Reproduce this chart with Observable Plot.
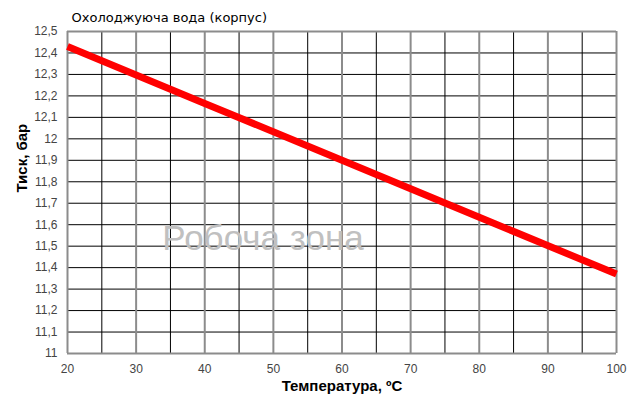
<!DOCTYPE html>
<html><head><meta charset="utf-8">
<script src="https://cdn.jsdelivr.net/npm/d3@7"></script>
<script src="https://cdn.jsdelivr.net/npm/@observablehq/plot@0.6"></script>
<style>body{margin:0;background:#fff;} svg{display:block;}</style>
</head><body><div id="chart"></div>
<script>
const temperatures = [20, 40, 60, 80, 100];
const pressures = [12.43, 12.165, 11.90, 11.635, 11.37];
const xTicks = [20, 30, 40, 50, 60, 70, 80, 90, 100];
const xMinor = [25, 35, 45, 55, 65, 75, 85, 95];
const yTicks = [11, 11.1, 11.2, 11.3, 11.4, 11.5, 11.6, 11.7, 11.8, 11.9, 12, 12.1, 12.2, 12.3, 12.4, 12.5];
const title = "Охолоджуюча вода (корпус)";
const xLabel = "Температура, ºC";
const yLabel = "Тиск, бар";
const watermark = "Робоча зона";

const data = temperatures.map((t, i) => ({t, p: pressures[i]}));
const fmt = d => String(Math.round(d * 10) / 10).replace(".", ",");

const chart = Plot.plot({
  width: 641, height: 400,
  marginTop: 31, marginLeft: 67, marginRight: 25, marginBottom: 47,
  style: {fontFamily: "Liberation Sans, Arial, sans-serif", fontSize: "12px", background: "#fff"},
  x: {domain: [20, 100], ticks: xTicks, tickFormat: d => d, tickSize: 0, tickPadding: 10, label: null},
  y: {domain: [11, 12.5], ticks: yTicks, tickFormat: fmt, tickSize: 0, tickPadding: 10, label: null},
  marks: [
    Plot.ruleY(yTicks, {stroke: "#000", strokeWidth: 1}),
    Plot.ruleX(xMinor, {stroke: "#000", strokeWidth: 1}),
    Plot.ruleX(xTicks, {stroke: "#8c8c8c", strokeWidth: 2}),
    Plot.ruleY([11], {stroke: "#8c8c8c", strokeWidth: 2}),
    Plot.ruleY([12.5], {stroke: "#8c8c8c", strokeWidth: 2}),
    Plot.axisX({ticks: xTicks, tickFormat: d => d, tickSize: 0, tickPadding: 11, fill: "#444", label: null, fontSize: 12}),
    Plot.axisY({ticks: yTicks, tickFormat: fmt, tickSize: 0, tickPadding: 10, fill: "#444", label: null, fontSize: 12}),
    Plot.text([watermark], {frameAnchor: "middle", dx: -79, dy: 46, fontSize: 35, fill: "#c0c0c0", text: d => d}),
    Plot.line(data, {x: "t", y: "p", stroke: "#ff0000", strokeWidth: 7, strokeLinecap: "butt"}),
    Plot.text([title], {frameAnchor: "top-left", dx: 4, dy: -14, lineAnchor: "middle", fontSize: 13, fontFamily: "DejaVu Sans", fill: "#000", textAnchor: "start", text: d => d}),
    Plot.text([xLabel], {frameAnchor: "bottom", dy: 33, lineAnchor: "middle", fontSize: 15, fontWeight: "bold", fill: "#000", text: d => d}),
    Plot.text([yLabel], {frameAnchor: "left", dx: -45, rotate: -90, fontSize: 15, fontWeight: "bold", fill: "#000", text: d => d})
  ]
});
document.getElementById("chart").append(chart);
</script>
</body></html>
